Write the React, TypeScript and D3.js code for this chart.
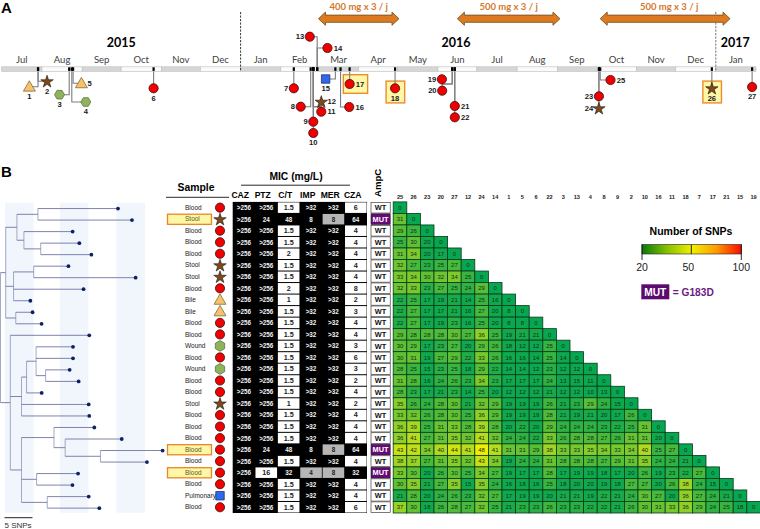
import React, { useEffect, useRef } from "react";
import * as d3 from "d3";

const width = 760;
const height = 529;
const sans = "'Liberation Sans', Arial, sans-serif";
const titleFont = "Lato, 'Open Sans', sans-serif";

// ---- panel A data ----
const eventDates = [
  "2015-07-29", "2015-07-29", "2015-08-22", "2015-08-24", "2015-08-25", "2015-10-26",
  "2016-02-11", "2016-02-24", "2016-02-26", "2016-02-26", "2016-02-26", "2016-02-26",
  "2016-02-29", "2016-02-29", "2016-03-14", "2016-03-18", "2016-03-25", "2016-04-29",
  "2016-06-12", "2016-06-12", "2016-06-14", "2016-06-14", "2016-10-03", "2016-10-03",
  "2016-10-04", "2016-12-29", "2017-01-29",
];
const eventKinds = [
  "Bile", "Stool", "Wound", "Wound", "Bile", "Blood", "Blood", "Blood", "Blood", "Blood",
  "Blood", "Stool", "Blood", "Blood", "Pulmonary", "Blood", "Blood", "Blood", "Blood",
  "Blood", "Blood", "Blood", "Blood", "Stool", "Blood", "Stool", "Blood",
];
const highlightedEvents = [17, 18, 26];
const therapyStart = ["2016-03-01", "2016-06-16", "2016-10-04"];
const therapyEnd = ["2016-05-02", "2016-09-03", "2017-01-12"];
const therapyLabels = ["400 mg x 3 / j", "500 mg x 3 / j", "500 mg x 3 / j"];
const yearLabels = ["2015", "2016", "2017"];

// ---- panel B data ----
const sampleNames = [
  "Blood", "Stool", "Blood", "Blood", "Blood", "Stool", "Stool", "Blood", "Bile", "Bile",
  "Blood", "Blood", "Wound", "Blood", "Wound", "Blood", "Blood", "Stool", "Blood", "Blood",
  "Blood", "Blood", "Blood", "Blood", "Blood", "Pulmonary", "Blood",
];
const highlightedRows = [1, 21, 23];
const micColumns = ["CAZ", "PTZ", "C/T", "IMP", "MER", "CZA"];
const cazMic = Array.from({ length: 27 }, () => ">256");
const ptzMic = [
  ">256", "24", ">256", ">256", ">256", ">256", ">256", ">256", ">256", ">256", ">256", ">256", ">256", ">256",
  ">256", ">256", ">256", ">256", ">256", ">256", ">256", "24", ">256", "16", ">256", ">256", ">256",
];
const ctMic = [
  "1.5", "48", "1.5", "1.5", "2", "1.5", "1.5", "2", "1", "1.5", "1.5", "1.5", "1.5", "1.5",
  "1.5", "1.5", "1.5", "1", "1.5", "1.5", "1.5", "48", "1.5", "32", "1.5", "1.5", "1.5",
];
const impMic = [
  ">32", "8", ">32", ">32", ">32", ">32", ">32", ">32", ">32", ">32", ">32", ">32", ">32", ">32",
  ">32", ">32", ">32", ">32", ">32", ">32", ">32", "8", ">32", "4", ">32", ">32", ">32",
];
const merMic = [
  ">32", "8", ">32", ">32", ">32", ">32", ">32", ">32", ">32", ">32", ">32", ">32", ">32", ">32",
  ">32", ">32", ">32", ">32", ">32", ">32", ">32", "8", ">32", "8", ">32", ">32", ">32",
];
const czaMic = [
  "6", "64", "4", "4", "4", "4", "4", "8", "2", "3", "4", "4", "3", "6",
  "3", "2", "4", "2", "4", "4", "4", "64", "4", "32", "4", "4", "6",
];
const micTable = [cazMic, ptzMic, ctMic, impMic, merMic, czaMic];
const ampC = sampleNames.map((_, i) => (highlightedRows.includes(i) ? "MUT" : "WT"));

// susceptible / intermediate / resistant, per antibiotic
const whiteBelow = [0, 16, 4, 2, 2, 8];
const greyUpTo = [0, 16, 4, 4, 8, 8];

const isolates = [
  "25", "26", "23", "20", "27", "12", "24", "14", "1", "5", "6", "22", "3", "13",
  "4", "8", "9", "2", "10", "16", "11", "18", "7", "17", "21", "15", "19",
];
const snpMatrix = [
  [0],
  [31, 0],
  [29, 26, 0],
  [25, 30, 20, 0],
  [31, 34, 20, 17, 0],
  [32, 27, 23, 25, 27, 0],
  [33, 34, 30, 32, 34, 25, 0],
  [32, 33, 23, 27, 25, 24, 29, 0],
  [22, 25, 17, 19, 21, 14, 25, 16, 0],
  [22, 27, 17, 17, 21, 16, 27, 20, 8, 0],
  [22, 27, 17, 19, 23, 16, 25, 20, 8, 8, 0],
  [29, 28, 28, 28, 30, 27, 36, 25, 19, 21, 21, 0],
  [30, 29, 17, 23, 27, 20, 29, 26, 18, 12, 12, 25, 0],
  [30, 31, 19, 27, 29, 22, 33, 26, 16, 16, 14, 25, 14, 0],
  [28, 25, 15, 23, 25, 18, 29, 22, 14, 14, 12, 23, 12, 12, 0],
  [31, 28, 16, 24, 26, 23, 34, 23, 17, 17, 17, 24, 13, 15, 11, 0],
  [28, 23, 17, 21, 23, 14, 25, 20, 12, 12, 12, 21, 12, 12, 10, 13, 0],
  [35, 26, 24, 28, 30, 21, 32, 29, 19, 19, 19, 26, 21, 23, 29, 24, 15, 0],
  [33, 32, 26, 28, 30, 25, 36, 29, 19, 19, 19, 28, 21, 19, 21, 20, 17, 26, 0],
  [36, 39, 25, 31, 33, 28, 39, 28, 20, 22, 20, 29, 24, 24, 24, 23, 22, 25, 31, 0],
  [36, 41, 27, 31, 35, 32, 41, 32, 24, 24, 22, 33, 26, 28, 28, 27, 26, 31, 31, 20, 0],
  [43, 42, 34, 40, 44, 41, 48, 41, 31, 31, 29, 38, 33, 33, 35, 34, 33, 34, 40, 25, 27, 0],
  [38, 37, 27, 31, 35, 32, 43, 34, 19, 24, 24, 31, 28, 28, 28, 27, 29, 31, 35, 24, 24, 21, 0],
  [33, 30, 20, 26, 30, 25, 34, 27, 19, 17, 17, 28, 17, 19, 19, 18, 17, 20, 26, 19, 23, 22, 27, 0],
  [30, 35, 21, 27, 35, 15, 35, 24, 16, 18, 16, 25, 18, 20, 20, 19, 18, 27, 27, 20, 26, 38, 24, 15, 0],
  [21, 28, 20, 24, 26, 23, 32, 27, 17, 19, 19, 20, 21, 21, 19, 22, 21, 24, 30, 27, 20, 36, 27, 24, 21, 0],
  [37, 30, 18, 26, 28, 27, 32, 25, 21, 23, 23, 26, 23, 23, 22, 22, 21, 26, 30, 31, 33, 36, 29, 24, 25, 18, 0],
];

// phylogeny: [branch length in SNPs, children]; a leaf has no children
type Branch = [number, Branch[]?];
const phylogeny: Branch = [0, [
  [0.93, [
    [2.0, [
      [3.75, [[14.3], [16.8]]],
      [1.25, [[8.7], [3.0, [[6.9], [9.05]]]]],
    ]],
    [1.4, [[3.6, [[6.2], [18.2]]], [12.5], [3.0]]],
    [1.8, [[3.0], [4.6]]],
  ]],
  [1.75, [
    [14.1],
    [2.0, [
      [0.9, [
        [1.7, [[6.6], [6.6], [1.7, [[4.3], [5.9]]]]],
        [2.7],
      ]],
      [12.0],
      [12.1],
    ]],
    [2.0, [
      [5.8, [[7.2], [2.0, [[10.1], [6.3, [[11.1], [8.3]]]]]]],
      [2.7, [[7.4], [6.4]]],
      [4.6, [[7.4], [9.3]]],
    ]],
  ]],
]];

// ---- hand placed call-outs of the timeline, [dx from the date, y, y of the elbow, label side] ----
const calloutLayout: [number, number, number, string][] = [
  [-8.7, 86.7, 86.7, "below"], [9, 81.3, 81.3, "below"], [-9.7, 94.7, 94.7, "below"],
  [14, 102, 102, "below"], [8.3, 83.3, 83.3, "right"], [0, 88.3, 88.3, "below"],
  [0, 88.3, 88.3, "left"], [-10, 106.7, 106.7, "left"], [0, 121.7, 121.7, "left"],
  [0, 133, 133, "below"], [8, 111.7, 106.7, "right"], [8, 101.7, 106.7, "right"],
  [-7.4, 36.7, 36.7, "left"], [10.3, 48, 48, "right"], [-9.7, 79, 79, "below"],
  [8.7, 107, 107, "right"], [0, 84, 84, "right"], [0, 88.3, 88.3, "below"],
  [-10.3, 79.3, 84, "left"], [-10, 90.7, 84, "left"], [0, 106, 106, "right"],
  [0, 117.3, 117.3, "right"], [0, 96.3, 96.3, "left"], [0, 108.3, 108.3, "left"],
  [10.3, 80, 80, "right"], [0, 88.3, 88.3, "below"], [0, 87, 87, "below"],
];

function drawSymbol(g: any, kind: string, x: number, y: number, upright = false) {
  const place = `translate(${x},${y})`;
  if (kind === "Blood") {
    g.append("circle").attr("cx", x).attr("cy", y).attr("r", 4.6)
      .attr("fill", "#f00000").attr("stroke", "#3a1010").attr("stroke-width", 0.8);
  } else if (kind === "Stool") {
    g.append("path").attr("transform", `${place} translate(0,0.5)`)
      .attr("d", d3.symbol(d3.symbolStar, 48)())
      .attr("fill", "#7b4a1c").attr("stroke", "#20120a").attr("stroke-width", 0.6);
  } else if (kind === "Bile") {
    g.append("path").attr("transform", `${place} translate(0,1)`)
      .attr("d", d3.symbol(d3.symbolTriangle, 62)())
      .attr("fill", "#f6c36c").attr("stroke", "#6e5a2c").attr("stroke-width", 0.7);
  } else if (kind === "Wound") {
    // flat topped on the timeline, pointy topped in the sample column
    const r = upright ? 5.4 : 5;
    const turn = upright ? Math.PI / 6 : 0;
    const hex = d3.range(6).map((i) => [
      r * Math.cos(turn + (i * Math.PI) / 3), r * Math.sin(turn + (i * Math.PI) / 3),
    ]);
    g.append("path").attr("transform", place)
      .attr("d", d3.line()(hex as [number, number][]) + "Z")
      .attr("fill", "#8fb35a").attr("stroke", "#4f6a36").attr("stroke-width", 0.7);
  } else {
    g.append("path").attr("transform", place)
      .attr("d", d3.symbol(d3.symbolSquare, 72)())
      .attr("fill", "#2f68ee").attr("stroke", "#1a2750").attr("stroke-width", 0.7);
  }
}

function App() {
  const ref = useRef<SVGSVGElement>(null);

  useEffect(() => {
    const svg = d3.select(ref.current);
    svg.selectAll("*").remove();
    svg.attr("font-family", sans);

    svg.append("text").text("A").attr("x", 1).attr("y", 13)
      .attr("font-size", 15).attr("font-weight", "bold");
    svg.append("text").text("B").attr("x", 1).attr("y", 177)
      .attr("font-size", 15).attr("font-weight", "bold");

    drawTimeline(svg.append("g"));
    const rowY = d3.scaleBand<number>().domain(d3.range(27)).range([201.9, 513]);
    drawTree(svg.append("g"), rowY);
    drawSamples(svg.append("g"), rowY);
    drawMic(svg.append("g"), rowY);
    drawHeatmap(svg.append("g"), rowY);
    drawLegend(svg.append("g"));
  }, []);

  function drawTimeline(g: any) {
    const parse = d3.utcParse("%Y-%m-%d");
    const start = new Date(Date.UTC(2015, 6, 1));
    const end = new Date(Date.UTC(2017, 1, 1));
    const t = d3.scaleUtc().domain([start, end]).range([1.7, 756]);
    const months = d3.utcMonth.range(start, end);

    g.selectAll(".month").data(months).join("rect")
      .attr("x", (d: Date) => t(d))
      .attr("y", 66.8)
      .attr("width", (d: Date) => t(d3.utcMonth.offset(d, 1)) - t(d))
      .attr("height", 4.6)
      .attr("fill", (_: Date, i: number) => (i % 2 ? "#fafafa" : "#d6d6d6"))
      .attr("stroke", "#bdbdbd")
      .attr("stroke-width", 0.6);

    g.selectAll(".monthLabel").data(months).join("text")
      .text(d3.utcFormat("%b"))
      .attr("x", (d: Date) => (t(d) + t(d3.utcMonth.offset(d, 1))) / 2)
      .attr("y", 62.5)
      .attr("text-anchor", "middle")
      .attr("font-family", titleFont)
      .attr("font-size", 9.5)
      .attr("fill", "#404040");

    const yearX = [
      new Date(Date.UTC(2015, 9, 1)), new Date(Date.UTC(2016, 5, 15)), new Date(Date.UTC(2017, 0, 16)),
    ];
    g.selectAll(".year").data(yearLabels).join("text")
      .text((d: string) => d)
      .attr("x", (_: string, i: number) => t(yearX[i]))
      .attr("y", 46.5)
      .attr("text-anchor", "middle")
      .attr("font-family", titleFont)
      .attr("font-size", 12.5)
      .attr("font-weight", "bold");

    // new year separators
    [new Date(Date.UTC(2016, 0, 1)), new Date(Date.UTC(2017, 0, 1))].forEach((d, i) => {
      g.append("line")
        .attr("x1", t(d)).attr("x2", t(d)).attr("y1", 12).attr("y2", 71.4)
        .attr("stroke", i ? "#8c8c8c" : "#222")
        .attr("stroke-width", i ? 1.2 : 0.9)
        .attr("stroke-dasharray", "2.2 1.3");
    });

    // therapy arrows
    therapyLabels.forEach((label, i) => {
      const a = t(parse(therapyStart[i])!);
      const b = t(parse(therapyEnd[i])!);
      const c = 18.7;
      const head = 7;
      g.append("path")
        .attr("d", `M${a},${c}L${a + head},${c - 6.6}V${c - 3.6}H${b - head}V${c - 6.6}L${b},${c}L${b - head},${c + 6.6}V${c + 3.6}H${a + head}V${c + 6.6}Z`)
        .attr("fill", "#dd7a1f")
        .attr("stroke", "#6f4a1e")
        .attr("stroke-width", 0.8);
      g.append("text").text(label)
        .attr("x", i === 2 ? (a + b) / 2 + 4 : (a + b) / 2)
        .attr("y", 10)
        .attr("text-anchor", "middle")
        .attr("font-family", titleFont)
        .attr("font-size", 9.5)
        .attr("font-weight", "bold")
        .attr("fill", "#d2782e");
    });

    const events = eventDates.map((date, i) => {
      const [dx, y, elbow, side] = calloutLayout[i];
      const tick = t(parse(date)!);
      return { id: i + 1, kind: eventKinds[i], tick, x: tick + dx, y, elbow, side };
    });

    events.filter((e) => highlightedEvents.includes(e.id)).forEach((e) => {
      const wide = e.side === "right";
      g.append("rect")
        .attr("x", e.x - (wide ? 6.3 : 9))
        .attr("y", e.y - (wide ? 9.3 : 7.2))
        .attr("width", wide ? 24.3 : 18.6)
        .attr("height", wide ? 18.6 : 21.8)
        .attr("fill", "#fff7a8")
        .attr("stroke", "#ea8d2c")
        .attr("stroke-width", 1.4);
    });

    g.selectAll(".link").data(events).join("path")
      .attr("d", (e: any) => {
        const from = e.y < 66 ? 66.8 : 71.4;
        return `M${e.tick},${from}V${e.elbow}H${e.x}V${e.y}`;
      })
      .attr("fill", "none")
      .attr("stroke", "#7d7d7d")
      .attr("stroke-width", 1.1);

    g.selectAll(".tick").data(events).join("rect")
      .attr("x", (e: any) => e.tick - 1.1)
      .attr("y", 67.3)
      .attr("width", 2.2)
      .attr("height", 3.6)
      .attr("fill", "#000");

    events.forEach((e) => drawSymbol(g, e.kind, e.x, e.y));

    g.selectAll(".eventLabel").data(events).join("text")
      .text((e: any) => e.id)
      .attr("x", (e: any) => (e.side === "left" ? e.x - 5.6 : e.side === "right" ? e.x + 6.2 : e.x))
      .attr("y", (e: any) => (e.side === "below" ? e.y + 12.3 : e.y + 2.7))
      .attr("text-anchor", (e: any) => (e.side === "left" ? "end" : e.side === "right" ? "start" : "middle"))
      .attr("font-size", 7.6)
      .attr("font-weight", "bold")
      .attr("fill", "#1a1a1a");
  }

  function drawTree(g: any, rowY: any) {
    const x = d3.scaleLinear().domain([0, 5]).range([0.5, 28.5]);
    const root = d3.hierarchy<Branch>(phylogeny, (d) => d[1]);

    // three pale bands behind the tree, every 5 SNPs
    [0.8, 10.6, 20.7].forEach((snp) => {
      g.append("rect")
        .attr("x", x(snp))
        .attr("y", 202.7)
        .attr("width", x(snp + 5.1) - x(snp))
        .attr("height", 310)
        .attr("fill", "#f1f5fc");
    });

    const tips = root.leaves();
    root.eachBefore((n: any) => {
      n.snps = (n.parent ? n.parent.snps : 0) + n.data[0];
    });
    root.eachAfter((n: any) => {
      n.py = n.children
        ? (n.children[0].py + n.children[n.children.length - 1].py) / 2
        : rowY(tips.indexOf(n)) + rowY.bandwidth() / 2 + 0.9;
    });

    const color = "#6f76a3";
    root.each((n: any) => {
      if (n.children) {
        g.append("line")
          .attr("x1", x(n.snps)).attr("x2", x(n.snps))
          .attr("y1", n.children[0].py).attr("y2", n.children[n.children.length - 1].py)
          .attr("stroke", "#9aa0c2").attr("stroke-width", 0.9);
      }
      if (n.parent) {
        g.append("line")
          .attr("x1", x(n.parent.snps)).attr("x2", x(n.snps))
          .attr("y1", n.py).attr("y2", n.py)
          .attr("stroke", color).attr("stroke-width", 0.9);
      }
    });

    g.selectAll(".tip").data(tips).join("circle")
      .attr("cx", (n: any) => x(n.snps))
      .attr("cy", (n: any) => n.py)
      .attr("r", 1.9)
      .attr("fill", "#0d2266");

    g.append("line")
      .attr("x1", x(0) + 4).attr("x2", x(5) + 4).attr("y1", 517.7).attr("y2", 517.7)
      .attr("stroke", "#222").attr("stroke-width", 1);
    g.append("text").text("5 SNPs").attr("x", 4.5).attr("y", 527.5)
      .attr("font-size", 8).attr("fill", "#333");
  }

  function drawSamples(g: any, rowY: any) {
    g.append("text").text("Sample")
      .attr("x", 196).attr("y", 191)
      .attr("text-anchor", "middle")
      .attr("font-size", 10.4).attr("font-weight", "bold");
    g.append("line").attr("x1", 166).attr("x2", 229).attr("y1", 197.3).attr("y2", 197.3)
      .attr("stroke", "#111").attr("stroke-width", 0.9);

    highlightedRows.forEach((r) => {
      g.append("rect")
        .attr("x", 167.5).attr("y", rowY(r) + 0.8)
        .attr("width", 44).attr("height", rowY.bandwidth() - 1.4)
        .attr("fill", "#fff7a8").attr("stroke", "#e8862a").attr("stroke-width", 1.3);
    });

    sampleNames.forEach((name, i) => {
      const cy = rowY(i) + rowY.bandwidth() / 2;
      g.append("text").text(name)
        .attr("x", 185).attr("y", cy + 2.2)
        .attr("font-size", 6.5)
        .attr("fill", highlightedRows.includes(i) ? "#5a5a1a" : "#222");
      drawSymbol(g, name, 220, cy, true);
    });
  }

  function drawMic(g: any, rowY: any) {
    const x = d3.scaleBand<string>().domain(micColumns).range([232.7, 367]);
    const headX = d3.scaleBand<string>().domain(micColumns).range([229, 364]);

    g.append("text").text("MIC (mg/L)")
      .attr("x", 296).attr("y", 180)
      .attr("text-anchor", "middle")
      .attr("font-size", 10.3).attr("font-weight", "bold");
    g.append("line").attr("x1", 241).attr("x2", 350).attr("y1", 185.2).attr("y2", 185.2)
      .attr("stroke", "#111").attr("stroke-width", 0.9);

    g.selectAll(".micHead").data(micColumns).join("text")
      .text((d: string) => d)
      .attr("x", (d: string) => headX(d)! + headX.bandwidth() / 2)
      .attr("y", 197.5)
      .attr("text-anchor", "middle")
      .attr("font-size", 8.6)
      .attr("font-weight", "bold");

    g.append("rect").attr("x", 232.7).attr("y", rowY(0))
      .attr("width", 134.3).attr("height", rowY.bandwidth() * 27).attr("fill", "#000");

    micColumns.forEach((col, c) => {
      micTable[c].forEach((value, r) => {
        const n = value.startsWith(">") ? 999 : +value;
        const shade = n <= whiteBelow[c] ? "white" : n <= greyUpTo[c] ? "grey" : "black";
        if (shade !== "black") {
          g.append("rect")
            .attr("x", x(col)! + 0.4).attr("y", rowY(r) + 0.5)
            .attr("width", x.bandwidth() - 0.8).attr("height", rowY.bandwidth() - 1)
            .attr("fill", shade === "white" ? "#fff" : "#b6b6b6");
        }
        g.append("text").text(value)
          .attr("x", x(col)! + x.bandwidth() / 2)
          .attr("y", rowY(r) + rowY.bandwidth() / 2 + 2.4)
          .attr("text-anchor", "middle")
          .attr("font-size", shade === "white" ? 7.2 : 6.3)
          .attr("font-weight", "bold")
          .attr("fill", shade === "black" ? "#f2f2f2" : "#222");
      });
    });

    // AmpC column
    const ampX = 371;
    const ampW = 19.2;
    g.append("text").text("AmpC")
      .attr("transform", `translate(380.5,197) rotate(-90)`)
      .attr("font-size", 9.6)
      .attr("font-weight", "bold");
    ampC.forEach((v, r) => {
      g.append("rect")
        .attr("x", ampX).attr("y", rowY(r) + 0.4)
        .attr("width", ampW).attr("height", rowY.bandwidth() - 0.8)
        .attr("fill", v === "MUT" ? "#660a78" : "#fff")
        .attr("stroke", "#222").attr("stroke-width", 0.6);
      g.append("text").text(v)
        .attr("x", ampX + ampW / 2)
        .attr("y", rowY(r) + rowY.bandwidth() / 2 + 2.6)
        .attr("text-anchor", "middle")
        .attr("font-size", 7.4)
        .attr("font-weight", "bold")
        .attr("fill", v === "MUT" ? "#fff" : "#111");
    });
  }

  function drawHeatmap(g: any, rowY: any) {
    const x = d3.scaleBand<string>().domain(isolates).range([393.2, 760.4]);
    const color = d3.scaleLinear<string>()
      .domain([0, 20, 30, 40, 48])
      .range(["#07a651", "#10a84c", "#5fc033", "#b0d920", "#f2ee00"]);

    g.append("g")
      .attr("transform", "translate(0,199)")
      .call(d3.axisTop(x).tickSize(0).tickPadding(0))
      .call((a: any) => a.select(".domain").remove())
      .call((a: any) => a.selectAll("text")
        .attr("font-family", sans)
        .attr("font-size", 5.6)
        .attr("font-weight", "bold")
        .attr("fill", "#222"));

    snpMatrix.forEach((row, r) => {
      row.forEach((v, c) => {
        g.append("rect")
          .attr("x", x(isolates[c])!)
          .attr("y", rowY(r))
          .attr("width", x.bandwidth())
          .attr("height", rowY.bandwidth())
          .attr("fill", color(v))
          .attr("stroke", "#07391b")
          .attr("stroke-width", 0.8);
        g.append("text").text(v)
          .attr("x", x(isolates[c])! + x.bandwidth() / 2)
          .attr("y", rowY(r) + rowY.bandwidth() / 2 + 2.1)
          .attr("text-anchor", "middle")
          .attr("font-size", 6)
          .attr("fill", "#12301a");
      });
    });
  }

  function drawLegend(g: any) {
    const legendTicks = [20, 50, 100];
    const x = d3.scaleLinear().domain(legendTicks).range([642, 691.3, 741.3]);

    const grad = g.append("linearGradient").attr("id", "snpScale");
    [["0%", "#067a08"], ["25%", "#86c000"], ["50%", "#f0f000"], ["75%", "#ff9a00"], ["100%", "#fb0a00"]]
      .forEach(([o, c]) => grad.append("stop").attr("offset", o).attr("stop-color", c));

    g.append("text").text("Number of SNPs")
      .attr("x", 691).attr("y", 234.5)
      .attr("text-anchor", "middle")
      .attr("font-size", 10.5).attr("font-weight", "bold");

    g.append("rect")
      .attr("x", x(20)).attr("y", 244.5)
      .attr("width", x(100) - x(20)).attr("height", 9.5)
      .attr("fill", "url(#snpScale)")
      .attr("stroke", "#222").attr("stroke-width", 0.6);

    legendTicks.forEach((v) => {
      g.append("line")
        .attr("x1", x(v)).attr("x2", x(v))
        .attr("y1", 244.5).attr("y2", v === 50 ? 254 : 260)
        .attr("stroke", "#111").attr("stroke-width", 0.9);
      g.append("text").text(v)
        .attr("x", v === 50 ? x(v) - 3 : x(v))
        .attr("y", 271)
        .attr("text-anchor", "middle")
        .attr("font-size", 10.5)
        .attr("fill", "#222");
    });

    g.append("rect").attr("x", 641.3).attr("y", 284.3).attr("width", 28).attr("height", 15)
      .attr("fill", "#5c0a6e");
    g.append("text").text("MUT")
      .attr("x", 655.3).attr("y", 295.6)
      .attr("text-anchor", "middle")
      .attr("font-size", 10.2).attr("font-weight", "bold").attr("fill", "#fff");
    g.append("text").text("= G183D")
      .attr("x", 672.7).attr("y", 295.6)
      .attr("font-size", 10.2).attr("font-weight", "bold").attr("fill", "#6a1b82");
  }

  return (
    <svg
      ref={ref}
      width={width}
      height={height}
      style={{ position: "absolute", left: 0, top: 0, background: "#fff" }}
    />
  );
}

export default App;
